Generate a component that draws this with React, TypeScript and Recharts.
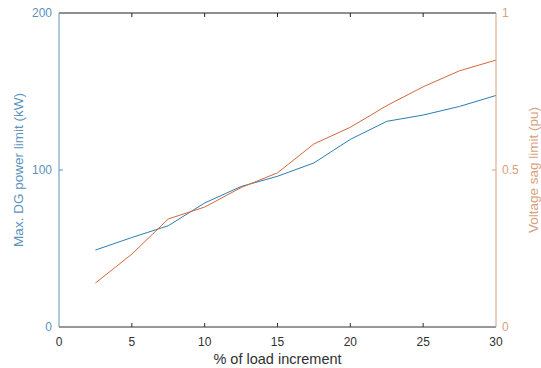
import { LineChart, Line, XAxis, YAxis } from "recharts";

const loadIncrement = [2.5, 5, 7.5, 10, 12.5, 15, 17.5, 20, 22.5, 25, 27.5, 30];
const dgPowerLimit = [49, 57, 64.5, 79, 89.5, 96, 104.5, 119.5, 131, 135, 140.5, 147.5];
const voltageSagLimit = [0.14, 0.232, 0.344, 0.382, 0.444, 0.491, 0.583, 0.636, 0.705, 0.765, 0.816, 0.85];

const xTicks = [0, 5, 10, 15, 20, 25, 30];
const leftTicks = [0, 100, 200];
const rightTicks = [0, 0.5, 1];

const data = loadIncrement.map((x, i) => ({
  load: x,
  power: dgPowerLimit[i],
  sag: voltageSagLimit[i],
}));

const FONT = "'Liberation Sans', Arial, Helvetica, sans-serif";
const BLUE_LINE = "#2a7db5";
const BLUE_AXIS = "#5b93bd";
const ORANGE_LINE = "#d4683a";
const ORANGE_AXIS = "#d8a07c";
const GRAY = "#303030";

// matlab-style ticks point inward, so draw the tick line in the custom tick
const BottomTick = ({ x, y, payload }: any) => (
  <g>
    {payload.value > 0 && payload.value < 30 && (
      <line x1={x} x2={x} y1={y - 10} y2={y - 14} stroke={GRAY} />
    )}
    <text x={x} y={y} dy="0.71em" textAnchor="middle" fill={GRAY} fontSize={12} fontFamily={FONT}>
      {payload.value}
    </text>
  </g>
);

const TopTick = ({ x, y, payload }: any) =>
  payload.value > 0 && payload.value < 30 ? (
    <line x1={x} x2={x} y1={y} y2={y + 4} stroke="#202020" />
  ) : (
    <g />
  );

const LeftTick = ({ x, y, payload }: any) => (
  <g>
    {payload.value > 0 && payload.value < 200 && (
      <line x1={x + 7} x2={x + 11} y1={y} y2={y} stroke={BLUE_AXIS} />
    )}
    <text x={x} y={y} dy="0.355em" textAnchor="end" fill={BLUE_AXIS} fontSize={12} fontFamily={FONT}>
      {payload.value}
    </text>
  </g>
);

const RightTick = ({ x, y, payload }: any) => (
  <g>
    {payload.value > 0 && payload.value < 1 && (
      <line x1={x - 6} x2={x - 10} y1={y} y2={y} stroke={ORANGE_AXIS} />
    )}
    <text x={x} y={y} dy="0.355em" textAnchor="start" fill={ORANGE_AXIS} fontSize={12} fontFamily={FONT}>
      {payload.value}
    </text>
  </g>
);

export default function App() {
  return (
    <div style={{ position: "absolute", left: 0, top: 0, width: 541, height: 368, background: "#fff" }}>
      <LineChart width={541} height={368} data={data} margin={{ top: 12, right: 0, bottom: 0, left: 0 }}>
        <XAxis
          xAxisId="bottom"
          dataKey="load"
          type="number"
          domain={[0, 30]}
          ticks={xTicks}
          interval={0}
          height={41}
          tickSize={0}
          tickMargin={10}
          tickLine={false}
          tick={<BottomTick />}
          stroke={GRAY}
          label={{
            value: "% of load increment",
            position: "insideBottom",
            offset: 4,
            fill: GRAY,
            fontSize: 14.5,
            fontFamily: FONT,
          }}
        />
        <XAxis
          xAxisId="top"
          orientation="top"
          dataKey="load"
          type="number"
          domain={[0, 30]}
          allowDataOverflow
          ticks={xTicks}
          interval={0}
          height={1}
          tickSize={0}
          tickMargin={0}
          tickLine={false}
          tick={<TopTick />}
          stroke="#202020"
        />
        <YAxis
          yAxisId="left"
          type="number"
          domain={[0, 200]}
          ticks={leftTicks}
          interval={0}
          width={59}
          tickSize={0}
          tickMargin={7}
          tickLine={false}
          tick={<LeftTick />}
          stroke={BLUE_AXIS}
          label={{
            value: "Max. DG power limit (kW)",
            angle: -90,
            position: "insideLeft",
            offset: 18,
            fill: BLUE_AXIS,
            fontSize: 13.5,
            fontFamily: FONT,
            style: { textAnchor: "middle" },
          }}
        />
        <YAxis
          yAxisId="right"
          orientation="right"
          type="number"
          domain={[0, 1]}
          ticks={rightTicks}
          interval={0}
          width={45}
          tickSize={0}
          tickMargin={6}
          tickLine={false}
          tick={<RightTick />}
          stroke={ORANGE_AXIS}
          label={{
            value: "Voltage sag limit (pu)",
            angle: -90,
            position: "insideRight",
            offset: 8,
            fill: ORANGE_AXIS,
            fontSize: 13.5,
            fontFamily: FONT,
            style: { textAnchor: "middle" },
          }}
        />
        {/* invisible copy so the top box axis gets a domain and renders */}
        <Line
          xAxisId="top"
          yAxisId="left"
          dataKey="power"
          stroke="none"
          dot={false}
          legendType="none"
          isAnimationActive={false}
        />
        <Line
          xAxisId="bottom"
          yAxisId="left"
          dataKey="power"
          stroke={BLUE_LINE}
          strokeWidth={1}
          dot={false}
          type="linear"
          isAnimationActive={false}
        />
        <Line
          xAxisId="bottom"
          yAxisId="right"
          dataKey="sag"
          stroke={ORANGE_LINE}
          strokeWidth={1}
          dot={false}
          type="linear"
          isAnimationActive={false}
        />
      </LineChart>
    </div>
  );
}
